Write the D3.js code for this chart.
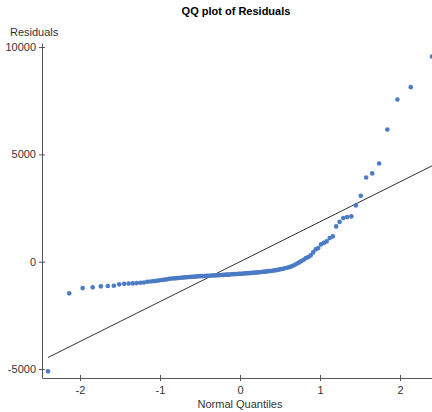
<!DOCTYPE html>
<html>
<head>
<meta charset="utf-8">
<script src="https://cdn.jsdelivr.net/npm/d3@7"></script>
<style>
  body { margin: 0; background: #fff; }
  svg { display: block; font-family: "Liberation Sans", Arial, sans-serif; }
  .axis path, .axis line { stroke: #555; }
  .axis text { fill: #333; font-size: 11px; }
</style>
</head>
<body>
<svg id="chart" width="432" height="412"></svg>
<script>
// sorted residuals (n = 121)
const residuals = [
  -5110, -1476, -1230, -1197, -1150, -1136, -1118, -1057, -1034, -1020,
  -1011, -997, -983, -969, -936, -922, -908, -894, -871, -852,
  -838, -824, -801, -787, -778, -768, -759, -750, -741, -731,
  -722, -713, -708, -703, -694, -685, -680, -675, -671, -666,
  -661, -657, -652, -647, -643, -638, -633, -629, -624, -619,
  -615, -610, -605, -601, -596, -587, -582, -578, -573, -568,
  -564, -559, -554, -545, -540, -536, -531, -522, -517, -512,
  -503, -498, -489, -480, -470, -461, -452, -442, -433, -424,
  -410, -396, -382, -363, -345, -326, -307, -284, -261, -228,
  -186, -140, -88, -33, 28, 93, 168, 214, 293, 433,
  573, 633, 806, 876, 945, 1099, 1178, 1644, 1854, 2031,
  2077, 2110, 2622, 3074, 3926, 4113, 4578, 6161, 7559, 8132,
  9562
];
// reference line: residual = slope * quantile + intercept
const refLine = { slope: 1860, intercept: 0 };
const xTicks = [-2, -1, 0, 1, 2];
const yTicks = [-5000, 0, 5000, 10000];

// inverse standard normal cdf (Acklam)
function qnorm(p) {
  const a = [-39.69683028665376, 220.9460984245205, -275.9285104469687, 138.3577518672690, -30.66479806614716, 2.506628277459239];
  const b = [-54.47609879822406, 161.5858368580409, -155.6989798598866, 66.80131188771972, -13.28068155288572];
  const c = [-0.007784894002430293, -0.3223964580411365, -2.400758277161838, -2.549732539343734, 4.374664141464968, 2.938163982698783];
  const d = [0.007784695709041462, 0.3224671290700398, 2.445134137142996, 3.754408661907416];
  const pl = 0.02425;
  let q, r;
  if (p < pl) {
    q = Math.sqrt(-2 * Math.log(p));
    return (((((c[0]*q+c[1])*q+c[2])*q+c[3])*q+c[4])*q+c[5]) / ((((d[0]*q+d[1])*q+d[2])*q+d[3])*q+1);
  } else if (p <= 1 - pl) {
    q = p - 0.5; r = q * q;
    return (((((a[0]*r+a[1])*r+a[2])*r+a[3])*r+a[4])*r+a[5])*q / (((((b[0]*r+b[1])*r+b[2])*r+b[3])*r+b[4])*r+1);
  }
  q = Math.sqrt(-2 * Math.log(1 - p));
  return -(((((c[0]*q+c[1])*q+c[2])*q+c[3])*q+c[4])*q+c[5]) / ((((d[0]*q+d[1])*q+d[2])*q+d[3])*q+1);
}

const n = residuals.length;
const data = residuals.map((r, i) => ({ q: qnorm((i + 1) / (n + 1)), r: r }));

const svg = d3.select("#chart");

const xScale = d3.scaleLinear().domain([-2.475, 2.5]).range([42, 440]);
const yScale = d3.scaleLinear().domain([-5420, 10190]).range([378, 43]);

// title + axis labels
svg.append("text")
  .attr("x", 236).attr("y", 15)
  .attr("text-anchor", "middle")
  .style("font-size", "11px").style("font-weight", "bold")
  .text("QQ plot of Residuals");

svg.append("text")
  .attr("x", 10).attr("y", 36)
  .style("font-size", "11px").attr("fill", "#333")
  .text("Residuals");

svg.append("text")
  .attr("x", 240).attr("y", 408)
  .attr("text-anchor", "middle")
  .style("font-size", "11px").attr("fill", "#333")
  .text("Normal Quantiles");

// axes
const plain = d => String(d);

const xAxis = svg.append("g")
  .attr("class", "axis")
  .attr("transform", "translate(0," + yScale.range()[0] + ")")
  .call(d3.axisBottom(xScale).tickValues(xTicks).tickFormat(plain).tickSize(3).tickSizeOuter(0).tickPadding(5));
xAxis.selectAll(".tick line").attr("y1", -3);

const yAxis = svg.append("g")
  .attr("class", "axis")
  .attr("transform", "translate(" + xScale.range()[0] + ",0)")
  .call(d3.axisLeft(yScale).tickValues(yTicks).tickFormat(plain).tickSize(3).tickSizeOuter(0).tickPadding(3));
yAxis.selectAll(".tick line").attr("x1", 3);

// reference line, from first to last quantile
const qExtent = d3.extent(data, d => d.q);
svg.append("line")
  .attr("x1", xScale(qExtent[0]))
  .attr("y1", yScale(refLine.slope * qExtent[0] + refLine.intercept))
  .attr("x2", xScale(qExtent[1]))
  .attr("y2", yScale(refLine.slope * qExtent[1] + refLine.intercept))
  .attr("stroke", "#333")
  .attr("stroke-width", 1);

// points
svg.append("g")
  .selectAll("circle")
  .data(data)
  .join("circle")
  .attr("cx", d => xScale(d.q))
  .attr("cy", d => yScale(d.r))
  .attr("r", 2.3)
  .attr("fill", "#4a7bc4");
</script>
</body>
</html>
